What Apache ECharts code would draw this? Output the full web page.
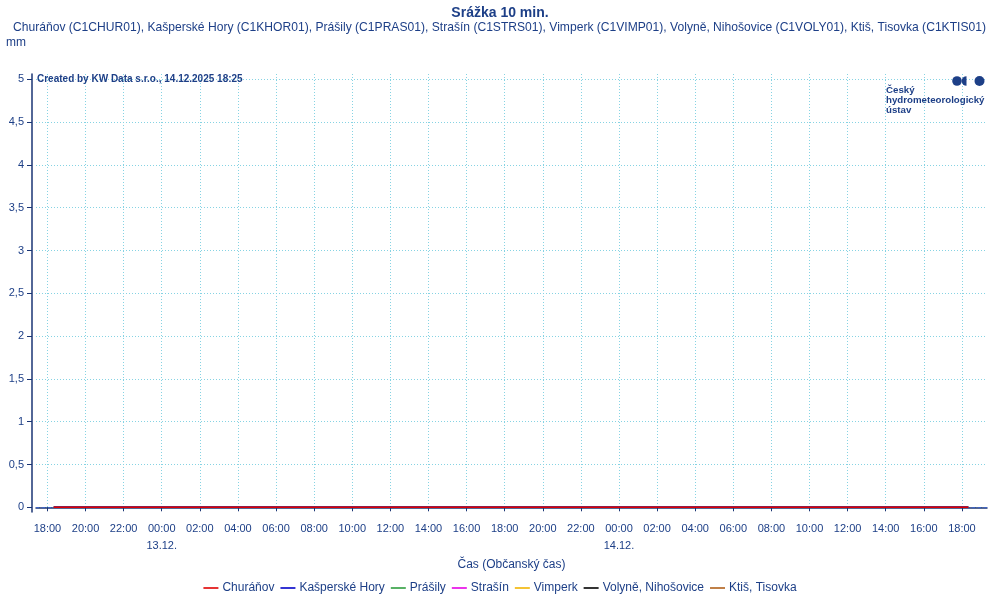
<!DOCTYPE html>
<html><head><meta charset="utf-8">
<script src="https://cdn.jsdelivr.net/npm/echarts@6/dist/echarts.min.js"></script>
<style>html,body{margin:0;padding:0;background:#fff}#c{width:1000px;height:600px}</style>
</head><body><div id="c"></div>
<script>
// ---- data ----
const chartTitle = 'Srážka 10 min.';
const stationNames = ['Churáňov', 'Kašperské Hory', 'Prášily', 'Strašín', 'Vimperk', 'Volyně, Nihošovice', 'Ktiš, Tisovka'];
const stationCodes = ['C1CHUR01', 'C1KHOR01', 'C1PRAS01', 'C1STRS01', 'C1VIMP01', 'C1VOLY01', 'C1KTIS01'];
const seriesColors = ['#e00000', '#0000c8', '#2e9e3e', '#e600e6', '#f2b400', '#000000', '#b0601a'];
const firstTime = '2025-12-12T18:20:00Z';   // first 10-min value
const stepMinutes = 10;
const axisStart = '2025-12-12T17:24:00Z';
const axisEnd = '2025-12-14T19:19:00Z';
const xTickTimes = [
  '2025-12-12T18:00Z','2025-12-12T20:00Z','2025-12-12T22:00Z',
  '2025-12-13T00:00Z','2025-12-13T02:00Z','2025-12-13T04:00Z','2025-12-13T06:00Z','2025-12-13T08:00Z','2025-12-13T10:00Z',
  '2025-12-13T12:00Z','2025-12-13T14:00Z','2025-12-13T16:00Z','2025-12-13T18:00Z','2025-12-13T20:00Z','2025-12-13T22:00Z',
  '2025-12-14T00:00Z','2025-12-14T02:00Z','2025-12-14T04:00Z','2025-12-14T06:00Z','2025-12-14T08:00Z','2025-12-14T10:00Z',
  '2025-12-14T12:00Z','2025-12-14T14:00Z','2025-12-14T16:00Z','2025-12-14T18:00Z'
];
const yTicks = [0, 0.5, 1, 1.5, 2, 2.5, 3, 3.5, 4, 4.5, 5];

// precipitation per 10 min [mm], 12.12. 18:20 – 14.12. 18:20 (all zero)
const churanov = [
 0,0,0,0,0,0,0,0,0,0,0,0, 0,0,0,0,0,0,0,0,0,0,0,0, 0,0,0,0,0,0,0,0,0,0,0,0,
 0,0,0,0,0,0,0,0,0,0,0,0, 0,0,0,0,0,0,0,0,0,0,0,0, 0,0,0,0,0,0,0,0,0,0,0,0,
 0,0,0,0,0,0,0,0,0,0,0,0, 0,0,0,0,0,0,0,0,0,0,0,0, 0,0,0,0,0,0,0,0,0,0,0,0,
 0,0,0,0,0,0,0,0,0,0,0,0, 0,0,0,0,0,0,0,0,0,0,0,0, 0,0,0,0,0,0,0,0,0,0,0,0,
 0,0,0,0,0,0,0,0,0,0,0,0, 0,0,0,0,0,0,0,0,0,0,0,0, 0,0,0,0,0,0,0,0,0,0,0,0,
 0,0,0,0,0,0,0,0,0,0,0,0, 0,0,0,0,0,0,0,0,0,0,0,0, 0,0,0,0,0,0,0,0,0,0,0,0,
 0,0,0,0,0,0,0,0,0,0,0,0, 0,0,0,0,0,0,0,0,0,0,0,0, 0,0,0,0,0,0,0,0,0,0,0,0,
 0,0,0,0,0,0,0,0,0,0,0,0, 0,0,0,0,0,0,0,0,0,0,0,0, 0,0,0,0,0,0,0,0,0,0,0,0,
 0
];
const kasperskeHory = [
 0,0,0,0,0,0,0,0,0,0,0,0, 0,0,0,0,0,0,0,0,0,0,0,0, 0,0,0,0,0,0,0,0,0,0,0,0,
 0,0,0,0,0,0,0,0,0,0,0,0, 0,0,0,0,0,0,0,0,0,0,0,0, 0,0,0,0,0,0,0,0,0,0,0,0,
 0,0,0,0,0,0,0,0,0,0,0,0, 0,0,0,0,0,0,0,0,0,0,0,0, 0,0,0,0,0,0,0,0,0,0,0,0,
 0,0,0,0,0,0,0,0,0,0,0,0, 0,0,0,0,0,0,0,0,0,0,0,0, 0,0,0,0,0,0,0,0,0,0,0,0,
 0,0,0,0,0,0,0,0,0,0,0,0, 0,0,0,0,0,0,0,0,0,0,0,0, 0,0,0,0,0,0,0,0,0,0,0,0,
 0,0,0,0,0,0,0,0,0,0,0,0, 0,0,0,0,0,0,0,0,0,0,0,0, 0,0,0,0,0,0,0,0,0,0,0,0,
 0,0,0,0,0,0,0,0,0,0,0,0, 0,0,0,0,0,0,0,0,0,0,0,0, 0,0,0,0,0,0,0,0,0,0,0,0,
 0,0,0,0,0,0,0,0,0,0,0,0, 0,0,0,0,0,0,0,0,0,0,0,0, 0,0,0,0,0,0,0,0,0,0,0,0,
 0
];
const prasily = [
 0,0,0,0,0,0,0,0,0,0,0,0, 0,0,0,0,0,0,0,0,0,0,0,0, 0,0,0,0,0,0,0,0,0,0,0,0,
 0,0,0,0,0,0,0,0,0,0,0,0, 0,0,0,0,0,0,0,0,0,0,0,0, 0,0,0,0,0,0,0,0,0,0,0,0,
 0,0,0,0,0,0,0,0,0,0,0,0, 0,0,0,0,0,0,0,0,0,0,0,0, 0,0,0,0,0,0,0,0,0,0,0,0,
 0,0,0,0,0,0,0,0,0,0,0,0, 0,0,0,0,0,0,0,0,0,0,0,0, 0,0,0,0,0,0,0,0,0,0,0,0,
 0,0,0,0,0,0,0,0,0,0,0,0, 0,0,0,0,0,0,0,0,0,0,0,0, 0,0,0,0,0,0,0,0,0,0,0,0,
 0,0,0,0,0,0,0,0,0,0,0,0, 0,0,0,0,0,0,0,0,0,0,0,0, 0,0,0,0,0,0,0,0,0,0,0,0,
 0,0,0,0,0,0,0,0,0,0,0,0, 0,0,0,0,0,0,0,0,0,0,0,0, 0,0,0,0,0,0,0,0,0,0,0,0,
 0,0,0,0,0,0,0,0,0,0,0,0, 0,0,0,0,0,0,0,0,0,0,0,0, 0,0,0,0,0,0,0,0,0,0,0,0,
 0
];
const strasin = [
 0,0,0,0,0,0,0,0,0,0,0,0, 0,0,0,0,0,0,0,0,0,0,0,0, 0,0,0,0,0,0,0,0,0,0,0,0,
 0,0,0,0,0,0,0,0,0,0,0,0, 0,0,0,0,0,0,0,0,0,0,0,0, 0,0,0,0,0,0,0,0,0,0,0,0,
 0,0,0,0,0,0,0,0,0,0,0,0, 0,0,0,0,0,0,0,0,0,0,0,0, 0,0,0,0,0,0,0,0,0,0,0,0,
 0,0,0,0,0,0,0,0,0,0,0,0, 0,0,0,0,0,0,0,0,0,0,0,0, 0,0,0,0,0,0,0,0,0,0,0,0,
 0,0,0,0,0,0,0,0,0,0,0,0, 0,0,0,0,0,0,0,0,0,0,0,0, 0,0,0,0,0,0,0,0,0,0,0,0,
 0,0,0,0,0,0,0,0,0,0,0,0, 0,0,0,0,0,0,0,0,0,0,0,0, 0,0,0,0,0,0,0,0,0,0,0,0,
 0,0,0,0,0,0,0,0,0,0,0,0, 0,0,0,0,0,0,0,0,0,0,0,0, 0,0,0,0,0,0,0,0,0,0,0,0,
 0,0,0,0,0,0,0,0,0,0,0,0, 0,0,0,0,0,0,0,0,0,0,0,0, 0,0,0,0,0,0,0,0,0,0,0,0,
 0
];
const vimperk = [
 0,0,0,0,0,0,0,0,0,0,0,0, 0,0,0,0,0,0,0,0,0,0,0,0, 0,0,0,0,0,0,0,0,0,0,0,0,
 0,0,0,0,0,0,0,0,0,0,0,0, 0,0,0,0,0,0,0,0,0,0,0,0, 0,0,0,0,0,0,0,0,0,0,0,0,
 0,0,0,0,0,0,0,0,0,0,0,0, 0,0,0,0,0,0,0,0,0,0,0,0, 0,0,0,0,0,0,0,0,0,0,0,0,
 0,0,0,0,0,0,0,0,0,0,0,0, 0,0,0,0,0,0,0,0,0,0,0,0, 0,0,0,0,0,0,0,0,0,0,0,0,
 0,0,0,0,0,0,0,0,0,0,0,0, 0,0,0,0,0,0,0,0,0,0,0,0, 0,0,0,0,0,0,0,0,0,0,0,0,
 0,0,0,0,0,0,0,0,0,0,0,0, 0,0,0,0,0,0,0,0,0,0,0,0, 0,0,0,0,0,0,0,0,0,0,0,0,
 0,0,0,0,0,0,0,0,0,0,0,0, 0,0,0,0,0,0,0,0,0,0,0,0, 0,0,0,0,0,0,0,0,0,0,0,0,
 0,0,0,0,0,0,0,0,0,0,0,0, 0,0,0,0,0,0,0,0,0,0,0,0, 0,0,0,0,0,0,0,0,0,0,0,0,
 0
];
const volyne = [
 0,0,0,0,0,0,0,0,0,0,0,0, 0,0,0,0,0,0,0,0,0,0,0,0, 0,0,0,0,0,0,0,0,0,0,0,0,
 0,0,0,0,0,0,0,0,0,0,0,0, 0,0,0,0,0,0,0,0,0,0,0,0, 0,0,0,0,0,0,0,0,0,0,0,0,
 0,0,0,0,0,0,0,0,0,0,0,0, 0,0,0,0,0,0,0,0,0,0,0,0, 0,0,0,0,0,0,0,0,0,0,0,0,
 0,0,0,0,0,0,0,0,0,0,0,0, 0,0,0,0,0,0,0,0,0,0,0,0, 0,0,0,0,0,0,0,0,0,0,0,0,
 0,0,0,0,0,0,0,0,0,0,0,0, 0,0,0,0,0,0,0,0,0,0,0,0, 0,0,0,0,0,0,0,0,0,0,0,0,
 0,0,0,0,0,0,0,0,0,0,0,0, 0,0,0,0,0,0,0,0,0,0,0,0, 0,0,0,0,0,0,0,0,0,0,0,0,
 0,0,0,0,0,0,0,0,0,0,0,0, 0,0,0,0,0,0,0,0,0,0,0,0, 0,0,0,0,0,0,0,0,0,0,0,0,
 0,0,0,0,0,0,0,0,0,0,0,0, 0,0,0,0,0,0,0,0,0,0,0,0, 0,0,0,0,0,0,0,0,0,0,0,0,
 0
];
const ktis = [
 0,0,0,0,0,0,0,0,0,0,0,0, 0,0,0,0,0,0,0,0,0,0,0,0, 0,0,0,0,0,0,0,0,0,0,0,0,
 0,0,0,0,0,0,0,0,0,0,0,0, 0,0,0,0,0,0,0,0,0,0,0,0, 0,0,0,0,0,0,0,0,0,0,0,0,
 0,0,0,0,0,0,0,0,0,0,0,0, 0,0,0,0,0,0,0,0,0,0,0,0, 0,0,0,0,0,0,0,0,0,0,0,0,
 0,0,0,0,0,0,0,0,0,0,0,0, 0,0,0,0,0,0,0,0,0,0,0,0, 0,0,0,0,0,0,0,0,0,0,0,0,
 0,0,0,0,0,0,0,0,0,0,0,0, 0,0,0,0,0,0,0,0,0,0,0,0, 0,0,0,0,0,0,0,0,0,0,0,0,
 0,0,0,0,0,0,0,0,0,0,0,0, 0,0,0,0,0,0,0,0,0,0,0,0, 0,0,0,0,0,0,0,0,0,0,0,0,
 0,0,0,0,0,0,0,0,0,0,0,0, 0,0,0,0,0,0,0,0,0,0,0,0, 0,0,0,0,0,0,0,0,0,0,0,0,
 0,0,0,0,0,0,0,0,0,0,0,0, 0,0,0,0,0,0,0,0,0,0,0,0, 0,0,0,0,0,0,0,0,0,0,0,0,
 0
];
const stationValues = [churanov, kasperskeHory, prasily, strasin, vimperk, volyne, ktis];

// ---- chart ----
const NAVY = '#1d3f87';
const AXIS = '#1a3574';
const GRID = '#86d3e3';
const FONT = '"Liberation Sans", Arial, sans-serif';
const t0 = Date.parse(firstTime);
const stepMs = stepMinutes * 60000;
const xTicks = xTickTimes.map(s => Date.parse(s));
const pad = n => (n < 10 ? '0' : '') + n;

const series = stationNames.map((name, i) => ({
  name: name,
  type: 'line',
  symbol: 'none',
  showSymbol: false,
  z: 10 - i,
  color: seriesColors[i],
  itemStyle: { color: seriesColors[i] },
  lineStyle: { width: 1.5, color: seriesColors[i] },
  data: stationValues[i].map((v, k) => [t0 + k * stepMs, v]),
  animation: false
}));
series.push({
  name: 'zero', type: 'line', data: [], z: 11, animation: false,
  markLine: {
    silent: true, symbol: 'none', label: { show: false },
    lineStyle: { color: '#3f63c6', type: [3, 3], width: 1 },
    data: [{ yAxis: 0 }]
  }
});

const chart = echarts.init(document.getElementById('c'), null, { renderer: 'canvas' });
chart.setOption({
  backgroundColor: '#ffffff',
  animation: false,
  textStyle: { fontFamily: FONT },
  title: {
    text: chartTitle, left: 'center', top: 1,
    textStyle: { fontSize: 14, fontWeight: 'bold', color: NAVY, fontFamily: FONT }
  },
  graphic: [
    { type: 'text', left: 13, top: 22, style: { text: stationNames.map((n, i) => n + ' (' + stationCodes[i] + ')').join(', '), font: '12.1px ' + FONT, fill: NAVY } },
    { type: 'text', left: 6, top: 37, style: { text: 'mm', font: '12px ' + FONT, fill: NAVY } },
    { type: 'text', left: 37, top: 74, z: 20, style: { text: 'Created by KW Data s.r.o., 14.12.2025 18:25', font: 'bold 10px ' + FONT, fill: NAVY } },
    { type: 'text', left: 886, top: 85, z: 20, style: { text: 'Český\nhydrometeorologický\nústav', font: 'bold 9.7px ' + FONT, fill: NAVY, lineHeight: 10 } },
    { type: 'circle', shape: { cx: 957, cy: 81, r: 4.8 }, style: { fill: NAVY }, z: 20 },
    { type: 'sector', shape: { cx: 966.5, cy: 81, r: 4.8, startAngle: Math.PI / 2, endAngle: Math.PI * 1.5 }, style: { fill: NAVY }, z: 20 },
    { type: 'circle', shape: { cx: 979.5, cy: 81, r: 5 }, style: { fill: NAVY }, z: 20 }
  ],
  legend: {
    bottom: 1, left: 'center',
    icon: 'rect',
    itemWidth: 15, itemHeight: 1.6, itemGap: 6,
    data: stationNames,
    textStyle: { fontSize: 12, color: NAVY, fontFamily: FONT, padding: [0, 0, 0, -1] }
  },
  grid: { left: 36, right: 13, top: 74, bottom: 88, containLabel: false },
  xAxis: {
    type: 'value',
    min: Date.parse(axisStart), max: Date.parse(axisEnd),
    offset: 4,
    name: 'Čas (Občanský čas)', nameLocation: 'middle', nameGap: 39,
    nameTextStyle: { fontSize: 12, color: NAVY, fontFamily: FONT },
    axisLine: { lineStyle: { color: AXIS, width: 1.5 } },
    axisTick: { customValues: xTicks, length: 4, lineStyle: { color: AXIS } },
    axisLabel: {
      customValues: xTicks, margin: 4, fontSize: 11, color: NAVY, lineHeight: 17, fontFamily: FONT,
      formatter: v => {
        const d = new Date(v);
        let s = pad(d.getUTCHours()) + ':' + pad(d.getUTCMinutes());
        if (d.getUTCHours() === 0) s += '\n' + pad(d.getUTCDate()) + '.' + pad(d.getUTCMonth() + 1) + '.';
        return s;
      }
    },
    splitLine: { show: true, lineStyle: { color: GRID, type: [1, 2], width: 1 } }
  },
  yAxis: {
    type: 'value',
    min: -0.055, max: 5.062,
    offset: 4,
    axisLine: { show: true, lineStyle: { color: AXIS, width: 1.5 } },
    axisTick: { show: true, customValues: yTicks, length: 5, lineStyle: { color: AXIS } },
    axisLabel: {
      customValues: yTicks, margin: 8, fontSize: 11, color: NAVY, fontFamily: FONT,
      formatter: v => String(v).replace('.', ',')
    },
    splitLine: { show: true, lineStyle: { color: GRID, type: [1, 2], width: 1 } }
  },
  series: series
});
</script>
</body></html>
